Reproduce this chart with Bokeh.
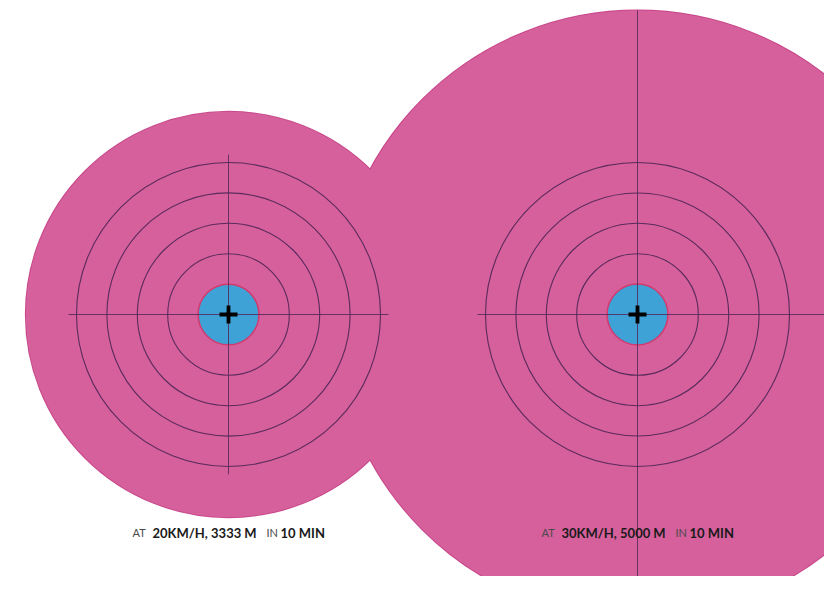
from bokeh.plotting import figure
from bokeh.models import Range1d
from bokeh.core.properties import value
from bokeh.embed import file_html
from bokeh.resources import INLINE

# ---- data ----
speeds_kmh = [20, 30]
distances_m = [3333, 5000]          # distance covered in 10 minutes
minutes = 10
ring_radii_m = [1000, 1500, 2000, 2500]
core_radius_m = 500
cross_half_m = 2630

# ---- layout (pixels -> metres) ----
W, H = 824, 576
M_PER_PX = 500 / 30.4
centers_px = [(228, 314), (637, 314)]

def px_to_x(px):
    return (px - centers_px[0][0]) * M_PER_PX

def px_to_y(py):
    return (centers_px[0][1] - py) * M_PER_PX

x0, x1 = px_to_x(0), px_to_x(W)
y1, y0 = px_to_y(0), px_to_y(H)
cx = [px_to_x(c[0]) for c in centers_px]
cy = [px_to_y(c[1]) for c in centers_px]

PINK = "#d5609b"
PINK_EDGE = "#c8478a"
BLUE = "#3ea2d6"
RING = "#55285a"

p = figure(width=W, height=H, x_range=Range1d(x0, x1), y_range=Range1d(y0, y1),
           output_backend="svg", toolbar_location=None, min_border=0,
           x_axis_location=None, y_axis_location=None)
p.grid.visible = False
p.outline_line_color = None
p.background_fill_color = "white"
p.border_fill_color = "white"

# pink reach discs: outline first, fills on top -> merged shape
p.circle(x=cx, y=cy, radius=distances_m, fill_color=None, line_color=PINK_EDGE, line_width=2)
p.circle(x=cx, y=cy, radius=distances_m, fill_color=PINK, line_color=None)

# rings
for i in range(2):
    p.circle(x=[cx[i]] * len(ring_radii_m), y=[cy[i]] * len(ring_radii_m), radius=ring_radii_m,
             fill_color=None, line_color=RING, line_width=1.1, line_alpha=0.95)

# blue core
p.circle(x=cx, y=cy, radius=core_radius_m, fill_color=BLUE, line_color="#d23a6e", line_width=1.5)

# cross-hair lines
seg_x0 = [cx[0] - cross_half_m, cx[0], cx[1] - cross_half_m, cx[1]]
seg_x1 = [cx[0] + cross_half_m, cx[0], cx[1] + distances_m[1], cx[1]]
seg_y0 = [cy[0], cy[0] - cross_half_m, cy[1], cy[1] - distances_m[1]]
seg_y1 = [cy[0], cy[0] + cross_half_m, cy[1], cy[1] + distances_m[1]]
p.segment(x0=seg_x0, y0=seg_y0, x1=seg_x1, y1=seg_y1, line_color=RING, line_width=1, line_alpha=0.85)

# centre plus
p.scatter(x=cx, y=cy, marker="cross", size=18, line_color="black", line_width=3.8)

# labels
label_y = cy[0] - 218 * M_PER_PX
for i in range(2):
    pieces = [
        ("AT", -96, "#4a4a4a", "normal", "11px"),
        (f"{speeds_kmh[i]}KM/H, {distances_m[i]} M", -76, "#1a1a1a", "bold", "13px"),
        ("IN", 38, "#4a4a4a", "normal", "11px"),
        (f"{minutes} MIN", 52, "#1a1a1a", "bold", "13px"),
    ]
    for txt, off, col, style, size in pieces:
        p.text(x=[cx[i] + off * M_PER_PX], y=[label_y], text=[txt],
               text_font=value("Lato"), text_font_style=style, text_font_size=size,
               text_color=col, text_baseline="middle", text_align="left")

open("out.html", "w").write(file_html(p, INLINE))
